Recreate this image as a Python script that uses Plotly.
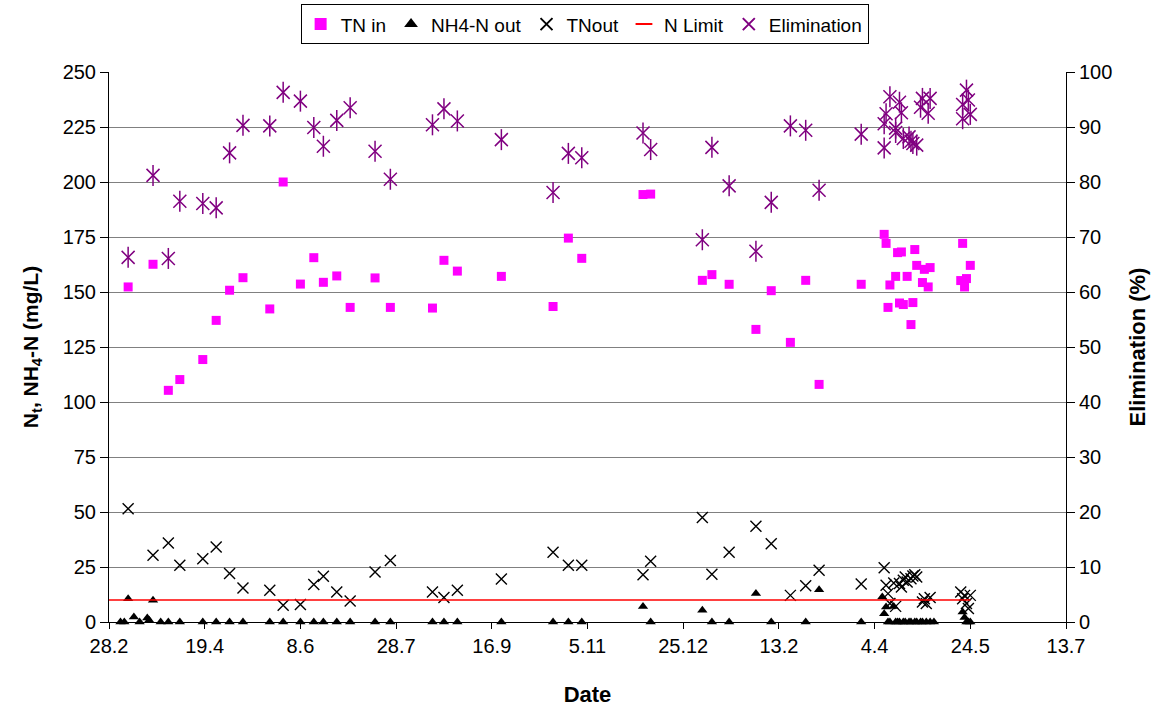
import pandas as pd
import plotly.graph_objects as go

# ---- data (sampling day = days after 28.2.2006) ----
start_date = "2006-02-28"

tn_in_day = [10, 23, 31, 37, 49, 56, 63, 70, 84, 91, 100, 107, 112, 119, 126, 139, 147,
             169, 175, 182, 205, 232, 240, 247, 279, 283, 310, 315, 324, 338, 346, 356,
             364, 371, 393, 405, 406, 407, 408, 411, 412, 413, 414, 415, 417, 419, 420,
             421, 422, 425, 426, 428, 429, 445, 446, 447, 448, 450]
tn_in_val = [152.3, 162.6, 105.3, 110.2, 119.3, 137.1, 150.8, 156.5, 142.3, 200.0, 153.6,
             165.6, 154.4, 157.3, 143.0, 156.4, 143.0, 142.7, 164.4, 159.5, 157.1, 143.4,
             174.5, 165.3, 194.3, 194.5, 155.3, 157.9, 153.5, 133.0, 150.6, 127.1, 155.3,
             108.0, 153.5, 176.2, 172.1, 143.0, 153.2, 157.1, 167.9, 145.0, 168.2, 144.3,
             157.1, 135.2, 145.2, 169.3, 162.1, 154.3, 160.3, 152.3, 161.1, 155.2, 172.1,
             152.3, 156.1, 162.1]

nh4_out_day = [6, 8, 10, 13, 16, 20, 21, 23, 27, 31, 37, 49, 56, 63, 70, 84, 91, 100, 107,
               112, 119, 126, 139, 147, 169, 175, 182, 205, 232, 240, 247, 279, 283, 310,
               315, 324, 338, 346, 364, 371, 393, 404, 405, 406, 407, 408, 410, 411, 412,
               413, 415, 416, 418, 419, 421, 422, 424, 425, 427, 429, 431, 446, 447, 448,
               449, 450]
nh4_out_val = [0, 0, 10.6, 2.3, 0, 1.8, 0.8, 9.9, 0, 0, 0, 0, 0, 0, 0, 0, 0, 0, 0,
               0, 0, 0, 0, 0, 0, 0, 0, 0, 0, 0, 0, 7.1, 0, 5.3,
               0, 0, 12.9, 0, 0, 14.7, 0, 11.4, 3.8, 6.8, 0, 0, 7.1, 0, 0,
               0, 0, 0, 0, 0, 0, 0, 0, 0, 0, 0, 0, 4.5, 2.0, 0,
               0, 0]

tn_out_day = [10, 23, 31, 37, 49, 56, 63, 70, 84, 91, 100, 107, 112, 119, 126, 139, 147,
              169, 175, 182, 205, 232, 240, 247, 279, 283, 310, 315, 324, 338, 346, 356,
              364, 371, 393, 405, 406, 407, 408, 410, 411, 413, 414, 415, 416, 417, 419,
              420, 421, 422, 425, 426, 427, 429, 445, 446, 447, 448, 449, 450]
tn_out_val = [51.5, 30.3, 35.9, 25.8, 28.8, 34.1, 22.0, 15.5, 14.4, 7.6, 8.0, 17.0, 20.8,
              13.6, 9.5, 22.7, 28.0, 13.6, 11.1, 14.4, 19.5, 31.7, 25.8, 25.8, 21.5, 27.6,
              47.5, 21.7, 31.7, 43.5, 35.6, 12.1, 16.5, 23.5, 17.3, 24.7, 16.7, 12.9, 8.4,
              17.7, 7.1, 17.5, 15.9, 19.0, 20.5, 18.2, 19.7, 20.9, 21.5, 20.5, 9.1, 10.6,
              8.4, 11.1, 13.6, 10.6, 12.1, 8.4, 6.1, 12.1]

n_limit_day = [0, 450]
n_limit_val = [10, 10]

elim_day = [10, 23, 31, 37, 49, 56, 63, 70, 84, 91, 100, 107, 112, 119, 126, 139, 147,
            169, 175, 182, 205, 232, 240, 247, 279, 283, 310, 315, 324, 338, 346, 356,
            364, 371, 393, 405, 405, 406, 408, 411, 411, 413, 414, 415, 418, 419, 420,
            422, 424, 425, 428, 429, 446, 446, 448, 449, 450]
elim_val = [66.3, 81.2, 66.1, 76.5, 76.1, 75.3, 85.3, 90.3, 90.2, 96.3, 94.7, 89.9, 86.5,
            91.2, 93.5, 85.6, 80.5, 90.4, 93.3, 91.1, 87.7, 78.1, 85.2, 84.4, 88.9, 85.9,
            69.5, 86.3, 79.3, 67.4, 76.3, 90.2, 89.4, 78.5, 88.7, 86.2, 90.6, 92.4, 95.5,
            89.8, 89.0, 94.5, 92.6, 87.9, 88.2, 87.4, 87.0, 86.7, 93.6, 95.2, 92.5, 95.2,
            91.5, 94.1, 96.7, 94.9, 92.3]

x_span_days = 500
x_tick_days = 50
left_range = [0, 250]
right_range = [0, 100]


def to_dates(days):
    return pd.Timestamp(start_date) + pd.to_timedelta(days, unit="D")


FONT = "Liberation Sans, Arial, sans-serif"
PURPLE = "#800080"

fig = go.Figure()

fig.add_trace(go.Scatter(
    x=to_dates(tn_in_day), y=tn_in_val, mode="markers", name="TN in",
    marker=dict(symbol="square", size=9, color="#FF00FF"), cliponaxis=False))

fig.add_trace(go.Scatter(
    x=to_dates(nh4_out_day), y=nh4_out_val, mode="markers", name="NH4-N out",
    marker=dict(symbol="triangle-up", size=9, color="black"), cliponaxis=False))

fig.add_trace(go.Scatter(
    x=to_dates(tn_out_day), y=tn_out_val, mode="markers", name="TNout",
    marker=dict(symbol="x-thin-open", size=11, color="black",
                line=dict(width=1.4, color="black")), cliponaxis=False))

# N Limit line (legend shown through a short-dash proxy entry)
fig.add_trace(go.Scatter(
    x=to_dates(n_limit_day), y=n_limit_val, mode="lines", name="N Limit",
    legendgroup="nlim", showlegend=False,
    line=dict(color="red", width=1.5)))
fig.add_trace(go.Scatter(
    x=[None], y=[None], mode="markers", name="N Limit", legendgroup="nlim",
    marker=dict(symbol="line-ew-open", size=6, color="red",
                line=dict(width=2, color="red"))))

fig.add_trace(go.Scatter(
    x=to_dates(elim_day), y=elim_val, mode="markers", name="Elimination", yaxis="y2",
    legendgroup="elim",
    marker=dict(symbol="x-thin-open", size=13, color=PURPLE,
                line=dict(width=1.5, color=PURPLE)), cliponaxis=False))
fig.add_trace(go.Scatter(
    x=to_dates(elim_day), y=elim_val, mode="markers", name="Elimination", yaxis="y2",
    legendgroup="elim", showlegend=False,
    marker=dict(symbol="line-ns-open", size=15, color=PURPLE,
                line=dict(width=1.5, color=PURPLE)), cliponaxis=False))

start = pd.Timestamp(start_date)
end = start + pd.Timedelta(days=x_span_days)

fig.update_layout(
    width=1168, height=711,
    margin=dict(l=109, r=102, t=72, b=89),
    paper_bgcolor="white", plot_bgcolor="white",
    font=dict(family=FONT, size=20, color="black"),
    showlegend=True,
    legend=dict(orientation="h", x=0.497, xanchor="center",
                yref="container", y=0.994, yanchor="top",
                bordercolor="black", borderwidth=1, font=dict(size=19),
                itemsizing="constant", tracegroupgap=0, itemwidth=30),
    xaxis=dict(type="date", range=[start, end], tick0=start, automargin=False,
               dtick=x_tick_days * 86400000, tickformat="%-d.%-m",
               showgrid=False, showline=True, linecolor="black", linewidth=1,
               ticks="outside", ticklen=6, tickcolor="black",
               title=dict(text="<b>Date</b>", font=dict(size=22), standoff=30),
               tickfont=dict(size=20)),
    yaxis=dict(range=left_range, dtick=25, showgrid=True, gridcolor="#808080", gridwidth=1,
               showline=True, linecolor="black", linewidth=1, zeroline=False, automargin=False,
               ticks="outside", ticklen=8, tickcolor="black",
               title=dict(text="<b>N<sub>t</sub>, NH<sub>4</sub>-N (mg/L)</b>", font=dict(size=21),
                          standoff=18),
               tickfont=dict(size=20)),
    yaxis2=dict(range=right_range, dtick=10, overlaying="y", side="right", automargin=False,
                showgrid=False, showline=True, linecolor="black", linewidth=1, zeroline=False,
                ticks="outside", ticklen=8, tickcolor="black",
                title=dict(text="<b>Elimination (%)</b>", font=dict(size=22), standoff=18),
                tickfont=dict(size=20)),
)

fig.write_html("out.html")
